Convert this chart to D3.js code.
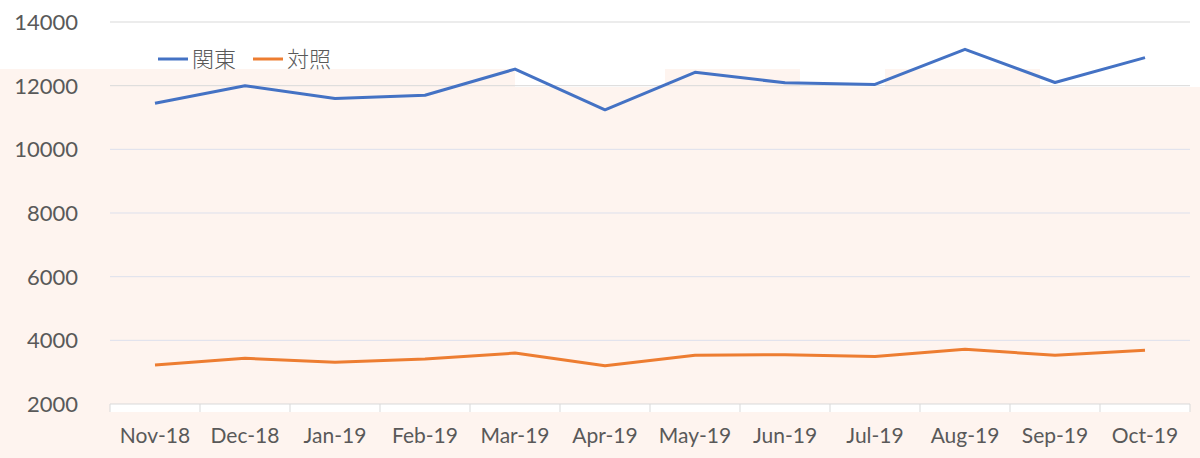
<!DOCTYPE html>
<html>
<head>
<meta charset="utf-8">
<script src="https://cdn.jsdelivr.net/npm/d3@7"></script>
<style>
  body { margin: 0; background: #fff; }
  text { font-family: Lato, "Noto Sans", sans-serif; fill: #595959; }
</style>
</head>
<body>
<div id="vis"></div>
<script>
// chart data
var months = ['Nov-18', 'Dec-18', 'Jan-19', 'Feb-19', 'Mar-19', 'Apr-19',
              'May-19', 'Jun-19', 'Jul-19', 'Aug-19', 'Sep-19', 'Oct-19'];
var kanto = [11450, 12000, 11600, 11700, 12520, 11240, 12420, 12090, 12040, 13140, 12100, 12880];
var taisho = [3225, 3435, 3310, 3410, 3600, 3200, 3530, 3550, 3490, 3720, 3530, 3690];
var yTicks = [2000, 4000, 6000, 8000, 10000, 12000, 14000];
var seriesNames = ['関東', '対照'];
var seriesColors = ['#4472C4', '#ED7D31'];

var svgW = 1200, svgH = 458;
var svg = d3.select('#vis').append('svg').attr('width', svgW).attr('height', svgH);
var g = svg.append('g');

var x = d3.scaleBand().domain(months).range([110, 1190]).paddingInner(0).paddingOuter(0);
var y = d3.scaleLinear().domain([2000, 14000]).range([404, 22]);

// background: peach page with white patches left from the chart area
var peach = '#fef4ef';
g.append('rect').attr('x', 0).attr('y', 69).attr('width', svgW).attr('height', svgH - 69).style('fill', peach);
var whites = [[515, 69, 150, 18], [800, 69, 85, 18], [1040, 69, 160, 18]];
whites.forEach(function (w) {
    g.append('rect').attr('x', w[0]).attr('y', w[1]).attr('width', w[2]).attr('height', w[3]).style('fill', '#fff');
});
// white strip under the axis line
g.append('rect').attr('x', 110).attr('y', y(2000)).attr('width', 1080).attr('height', 8).style('fill', '#fff');

// horizontal grid lines
g.selectAll('.yGrid').data(yTicks.slice(1)).enter().append('line').attr('class', 'yGrid')
    .attr('x1', 110).attr('x2', 1190)
    .attr('y1', function (d) { return y(d); }).attr('y2', function (d) { return y(d); })
    .attr('stroke', function (d) { return d >= 12000 ? '#d9d9d9' : '#dde0ec'; }).attr('stroke-width', 1);

// x axis line + ticks at band edges
g.append('line').attr('x1', 110).attr('x2', 1190).attr('y1', y(2000)).attr('y2', y(2000))
    .attr('stroke', '#d9d9d9').attr('stroke-width', 1);
var bounds = months.map(function (m) { return x(m); }).concat([x.range()[1]]);
g.selectAll('.xTick').data(bounds).enter().append('line').attr('class', 'xTick')
    .attr('x1', function (d) { return d; }).attr('x2', function (d) { return d; })
    .attr('y1', y(2000)).attr('y2', y(2000) + 8)
    .attr('stroke', '#d9d9d9').attr('stroke-width', 1);

// y labels
g.selectAll('.yLabel').data(yTicks).enter().append('text').attr('class', 'yLabel')
    .text(String)
    .attr('x', 78).attr('y', function (d) { return y(d); }).attr('dy', '0.36em')
    .attr('text-anchor', 'end').style('font-size', '22px');

// x labels
g.selectAll('.xLabel').data(months).enter().append('text').attr('class', 'xLabel')
    .text(String)
    .attr('x', function (d) { return x(d) + x.bandwidth() / 2; }).attr('y', 443)
    .attr('text-anchor', 'middle').style('font-size', '21px');

// lines
var line = d3.line()
    .x(function (d, i) { return x(months[i]) + x.bandwidth() / 2; })
    .y(function (d) { return y(d); });

[kanto, taisho].forEach(function (s, i) {
    g.append('path').datum(s).attr('d', line)
        .style('fill', 'none').style('stroke', seriesColors[i])
        .style('stroke-width', 3).style('stroke-linejoin', 'round');
});

// legend
var legX = [158, 253];
seriesNames.forEach(function (name, i) {
    g.append('line').attr('x1', legX[i]).attr('x2', legX[i] + 30).attr('y1', 59).attr('y2', 59)
        .style('stroke', seriesColors[i]).style('stroke-width', 3);
    g.append('text').text(name).attr('x', legX[i] + 34).attr('y', 59).attr('dy', '0.36em')
        .style('font-family', '"Noto Sans CJK JP", sans-serif').style('font-size', '22px')
        .style('font-weight', 300);
});
</script>
</body>
</html>
